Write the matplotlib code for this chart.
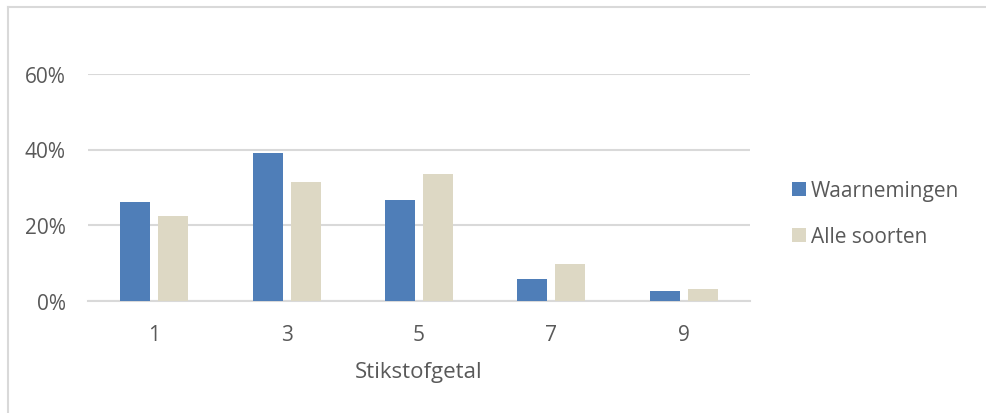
import matplotlib
matplotlib.use("Agg")
import matplotlib.pyplot as plt
from matplotlib.lines import Line2D
from matplotlib.ticker import FuncFormatter
import numpy as np

# Verdeling per stikstofgetal (aandeel)
stikstofgetal = [1, 3, 5, 7, 9]
waarnemingen = [0.262, 0.390, 0.267, 0.057, 0.024]
alle_soorten = [0.225, 0.314, 0.334, 0.096, 0.031]
y_ticks = [0, 0.2, 0.4, 0.6]

BLUE = "#4F7EB8"
BEIGE = "#DDD8C4"
GRID = "#D9D9D9"
TEXT = "#595959"

plt.rcParams['font.family'] = ['Open Sans', 'DejaVu Sans']

fig = plt.figure(figsize=(9.86, 4.14), dpi=100)
W, H = 986, 414

# chart frame: only the left and top edges fall inside the image
fx, fy = 7.5 / W, 1 - 8 / H
fig.add_artist(Line2D([fx, fx], [0, fy], transform=fig.transFigure, color=GRID, linewidth=1.5))
fig.add_artist(Line2D([fx, 1], [fy, fy], transform=fig.transFigure, color=GRID, linewidth=1.5))

ax = fig.add_axes([88 / W, (H - 301.5) / H, (750 - 88) / W, (301.5 - 75) / H])

x = np.array(stikstofgetal, dtype=float)
bw = 0.453
off = 0.287
ax.bar(x - off, waarnemingen, width=bw, color=BLUE, label="Waarnemingen", zorder=3)
ax.bar(x + off, alle_soorten, width=bw, color=BEIGE, label="Alle soorten", zorder=3)

ax.set_xlim(0, 10)
ax.set_ylim(0, 0.6)
ax.set_yticks(y_ticks)
ax.yaxis.set_major_formatter(FuncFormatter(lambda v, p: f"{v*100:.0f}%"))
ax.set_xticks(stikstofgetal)
ax.set_xticklabels([str(s) for s in stikstofgetal])

ax.grid(axis="y", color=GRID, linewidth=1.5, zorder=0)
ax.set_axisbelow(True)
for s in ["top", "right", "left"]:
    ax.spines[s].set_visible(False)
ax.spines["bottom"].set_color(GRID)
ax.spines["bottom"].set_linewidth(1.5)
ax.tick_params(axis="both", length=0, labelsize=15, labelcolor=TEXT)
ax.tick_params(axis="y", pad=16)
ax.tick_params(axis="x", pad=17)

ax.set_xlabel("Stikstofgetal", fontsize=16, color=TEXT)
ax.xaxis.set_label_coords(0.5, -(378 - 301.5) / (301.5 - 75))
ax.xaxis.label.set_va("baseline")

fig.legend(loc="center left", bbox_to_anchor=(792 / W, 1 - 215 / H), frameon=False,
           fontsize=15, labelcolor=TEXT, handlelength=0.65, handleheight=0.65,
           handletextpad=0.25, labelspacing=1.2, borderpad=0, borderaxespad=0)

fig.savefig("out.png", dpi=100, facecolor="white")
